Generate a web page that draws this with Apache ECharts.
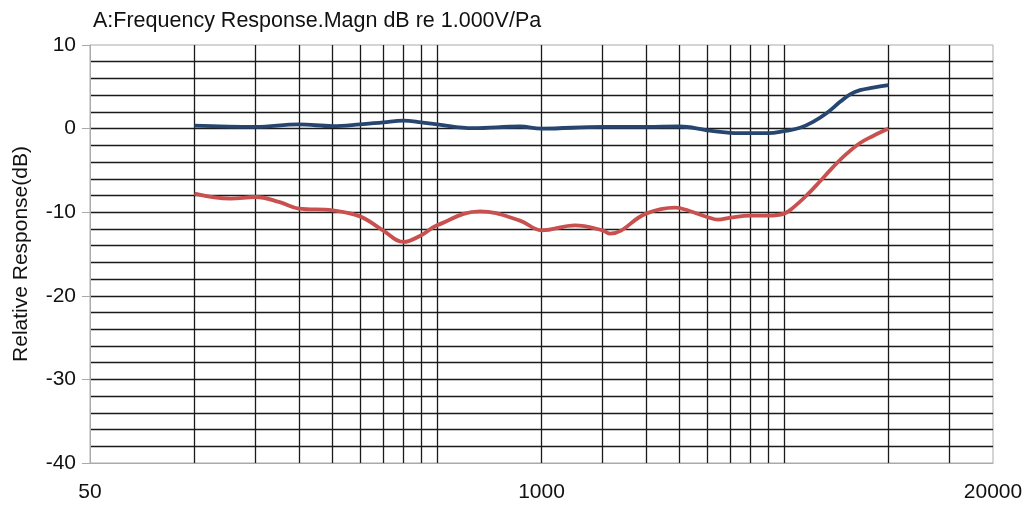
<!DOCTYPE html>
<html>
<head>
    <meta charset="utf-8">
    <title>Frequency Response</title>
    <script src="https://cdn.jsdelivr.net/npm/echarts@6/dist/echarts.min.js"></script>
    <style>
        html, body {margin: 0; padding: 0; background: #fff;}
        #main {width: 1024px; height: 513px;}
    </style>
</head>
<body>
<div id="main"></div>
<script>
    // frequency (Hz) / level (dB)
    var blueFreq = [100, 150, 200, 250, 300, 350, 400, 450, 500, 635, 867, 1000, 1500, 2000, 2500, 3000, 3500, 4000, 4500, 5000, 5560, 6060, 6640, 7250, 7750, 8280, 9020, 10000];
    var blueDb   = [0.35, 0.2, 0.5, 0.3, 0.5, 0.75, 0.95, 0.75, 0.5, 0.05, 0.25, 0.0, 0.2, 0.2, 0.25, -0.2, -0.5, -0.55, -0.55, -0.3, 0.1, 0.8, 1.87, 3.2, 4.1, 4.6, 4.9, 5.2];

    var redFreq = [100, 127, 150, 176, 200, 250, 300, 350, 400, 450, 500, 665, 867, 1000, 1250, 1500, 1577, 2000, 2427, 2500, 3000, 3226, 3500, 4000, 4500, 5000, 5310, 5813, 6350, 6920, 7580, 8280, 9020, 10000];
    var redDb   = [-7.78, -8.37, -8.18, -8.8, -9.57, -9.77, -10.5, -12.2, -13.56, -12.76, -11.57, -9.9, -11.0, -12.17, -11.57, -12.17, -12.56, -10.17, -9.45, -9.5, -10.57, -10.9, -10.65, -10.4, -10.4, -10.17, -9.45, -7.97, -6.3, -4.6, -3.0, -1.72, -0.88, 0.0];

    // grid lines and labels on the frequency axis
    var freqGrid = [100, 150, 200, 250, 300, 350, 400, 450, 500,
        1000, 1500, 2000, 2500, 3000, 3500, 4000, 4500, 5000, 10000, 15000];
    var freqLabels = [50, 1000, 20000];

    function pairs(xs, ys) {
        return xs.map(function (x, i) {
            return [x, ys[i]];
        });
    }

    var myChart = echarts.init(document.getElementById('main'));
    var font = 'Liberation Sans, Arial, sans-serif';

    myChart.setOption({
        animation: false,
        title: {
            text: 'A:Frequency Response.Magn dB re 1.000V/Pa',
            left: 88,
            top: 5,
            textStyle: {fontFamily: font, fontSize: 21.5, fontWeight: 'normal', color: '#111'}
        },
        grid: {
            left: 90, right: 31, top: 45, bottom: 50,
            outerBoundsMode: 'none',
            containLabel: false,
            show: true,
            borderColor: '#aaa',
            borderWidth: 1
        },
        xAxis: {
            type: 'log',
            logBase: 10,
            min: 50,
            max: 20000,
            axisLine: {show: true, onZero: false, lineStyle: {color: '#aaa', width: 1}},
            axisTick: {show: false, customValues: freqGrid},
            axisLabel: {
                customValues: freqLabels,
                formatter: function (v) { return String(v); },
                margin: 19,
                fontFamily: font,
                fontSize: 21,
                color: '#111'
            },
            splitLine: {
                show: true,
                showMinLine: true,
                showMaxLine: true,
                lineStyle: {color: '#1a1a1a', width: 1.3}
            }
        },
        yAxis: {
            type: 'value',
            min: -40,
            max: 10,
            interval: 10,
            name: 'Relative Response(dB)',
            nameLocation: 'middle',
            nameGap: 58,
            nameTextStyle: {fontFamily: font, fontSize: 21, color: '#111'},
            axisLine: {show: true, lineStyle: {color: '#aaa', width: 1}},
            axisTick: {show: true, inside: false, length: 8, lineStyle: {color: '#aaa'}},
            axisLabel: {margin: 14, fontFamily: font, fontSize: 21, color: '#111'},
            minorTick: {show: false, splitNumber: 5},
            splitLine: {
                show: true,
                showMinLine: false,
                showMaxLine: false,
                lineStyle: {color: '#1a1a1a', width: 1.3}
            },
            minorSplitLine: {show: true, lineStyle: {color: '#1a1a1a', width: 1.3}}
        },
        series: [
            {
                type: 'line',
                data: pairs(blueFreq, blueDb),
                smooth: 0.4,
                showSymbol: false,
                lineStyle: {color: '#264670', width: 3.8},
                z: 3
            },
            {
                type: 'line',
                data: pairs(redFreq, redDb),
                smooth: 0.4,
                showSymbol: false,
                lineStyle: {color: '#c8504e', width: 3.8},
                z: 3
            }
        ]
    });
</script>
</body>
</html>
